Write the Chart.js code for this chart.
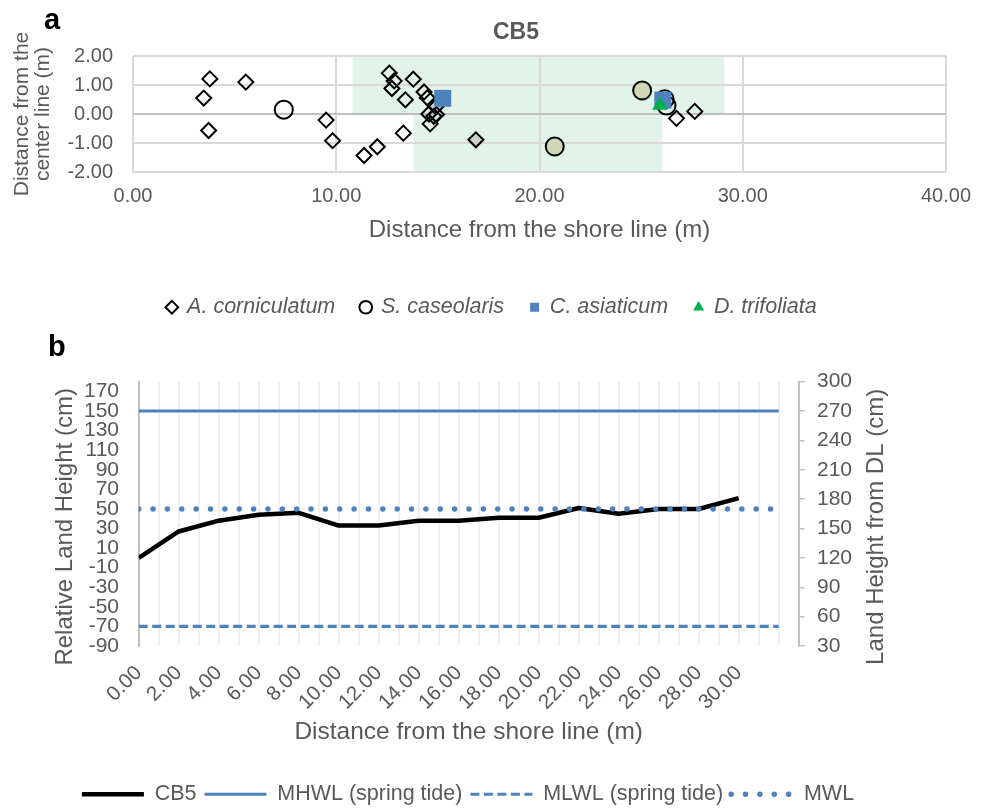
<!DOCTYPE html>
<html>
<head>
<meta charset="utf-8">
<title>CB5 transect</title>
<script src="https://cdn.jsdelivr.net/npm/chart.js@4.4.1/dist/chart.umd.min.js"></script>
<style>
  html, body { margin: 0; padding: 0; background: #fff; width: 984px; height: 809px; overflow: hidden; }
  body { position: relative; }
  canvas { position: absolute; left: 0; }
  #chartA { top: 0; }
  #chartB { top: 308px; }
  .panel { position: absolute; font: bold 29px 'Liberation Sans', Arial, sans-serif; color: #000; line-height: 29px; }
</style>
</head>
<body>
<canvas id="chartA" width="984" height="328"></canvas>
<canvas id="chartB" width="984" height="507"></canvas>
<div class="panel" style="left:44px;top:5px">a</div>
<div class="panel" style="left:48px;top:332px">b</div>
<script>
// ---------- Panel a: plant positions along the CB5 transect (m) ----------
const acorniculatumX = [3.78, 3.48, 3.72, 5.55, 9.50, 9.82, 11.37, 12.02, 13.30, 12.61, 12.85, 12.74, 13.40, 13.79, 14.32, 14.48, 14.56, 14.80, 14.93, 14.62, 26.74, 27.64];
const acorniculatumY = [1.21, 0.55, -0.57, 1.10, -0.21, -0.92, -1.43, -1.13, -0.66, 1.41, 1.14, 0.88, 0.49, 1.20, 0.76, 0.56, 0.00, -0.08, -0.02, -0.34, -0.15, 0.09];
const acorniculatumShadedX = [14.90, 16.87];
const acorniculatumShadedY = [0.25, -0.89];
const scaseolarisX = [7.42, 26.16, 26.25];
const scaseolarisY = [0.15, 0.51, 0.29];
const scaseolarisShadedX = [20.75, 25.05];
const scaseolarisShadedY = [-1.12, 0.81];
const casiaticumX = [15.24, 26.07];
const casiaticumY = [0.54, 0.48];
const dtrifoliataX = [25.93];
const dtrifoliataY = [0.30];
// vegetated zones: [xMin, xMax, yMin, yMax]
const zoneUpper = [10.8, 29.1, 0, 2];
const zoneLower = [13.8, 26.05, -2, 0];
const shoreTicksA = [0, 10, 20, 30, 40];
const centerTicksA = [-2, -1, 0, 1, 2];

// ---------- Panel b: land height profile ----------
const profileDistance = [0, 2, 4, 6, 8, 10, 12, 14, 16, 18, 20, 22, 24, 26, 28, 30];
const cb5Height = [0, 27, 38, 44, 46, 33, 33, 38, 38, 41, 41, 51, 45, 50, 50, 61];
const levelExtent = [0, 32];
const mhwlLevel = 150;
const mlwlLevel = -70;
const mwlLevel = 50;
const distanceTicksB = [0,1,2,3,4,5,6,7,8,9,10,11,12,13,14,15,16,17,18,19,20,21,22,23,24,25,26,27,28,29,30,31,32,33];
const labelledDistances = [0, 2, 4, 6, 8, 10, 12, 14, 16, 18, 20, 22, 24, 26, 28, 30];
const relativeTicks = [-90, -70, -50, -30, -10, 10, 30, 50, 70, 90, 110, 130, 150, 170];
const datumTicks = [30, 60, 90, 120, 150, 180, 210, 240, 270, 300];

// ---------- shared styling ----------
const FONT = "'Liberation Sans', Arial, sans-serif";
const TEXT = '#595959';
Chart.defaults.font.family = FONT;
Chart.defaults.color = TEXT;
Chart.defaults.animation = false;
Chart.defaults.plugins.tooltip.enabled = false;

const points = (xs, ys) => xs.map((x, i) => ({ x, y: ys[i] }));
const fixedTicks = list => scale => { scale.ticks = list.map(value => ({ value })); };
const byIndex = (a, b) => a.datasetIndex - b.datasetIndex;

// shaded zones behind the grid
const zonePlugin = {
  id: 'zones',
  beforeDraw(chart, args, opts) {
    const { ctx, scales: { x, y } } = chart;
    ctx.save();
    ctx.fillStyle = opts.color;
    for (const [x0, x1, y0, y1] of opts.zones) {
      const l = x.getPixelForValue(x0), r = x.getPixelForValue(x1);
      const t = y.getPixelForValue(y1), b = y.getPixelForValue(y0);
      ctx.fillRect(l, t, r - l, b - t);
    }
    ctx.restore();
  }
};

// chart heading placed over the plot
const headingPlugin = {
  id: 'heading',
  afterDraw(chart, args, opts) {
    const { ctx, chartArea } = chart;
    ctx.save();
    ctx.font = `bold ${opts.size}px ${FONT}`;
    ctx.fillStyle = TEXT;
    ctx.textAlign = 'center';
    ctx.textBaseline = 'middle';
    ctx.fillText(opts.text, (chartArea.left + chartArea.right) / 2 + opts.dx, opts.y);
    ctx.restore();
  }
};

// vertical axis titles reading bottom to top on both sides
const sideTitlePlugin = {
  id: 'sideTitles',
  afterDraw(chart, args, opts) {
    const { ctx, chartArea } = chart;
    const cy = (chartArea.top + chartArea.bottom) / 2 + opts.shift;
    ctx.save();
    ctx.font = `${opts.size}px ${FONT}`;
    ctx.fillStyle = TEXT;
    ctx.textAlign = 'center';
    ctx.textBaseline = 'middle';
    for (const t of opts.items) {
      const x = t.edge === 'left' ? chartArea.left - t.gap : chartArea.right + t.gap;
      ctx.save();
      ctx.translate(x, cy);
      ctx.rotate(-Math.PI / 2);
      ctx.fillText(t.text, 0, 0);
      ctx.restore();
    }
    ctx.restore();
  }
};

// ---------- Panel a chart ----------
const openMarker = { borderColor: '#000000', backgroundColor: 'rgba(0,0,0,0)', borderWidth: 2 };
new Chart(document.getElementById('chartA'), {
  type: 'scatter',
  data: {
    datasets: [
      { label: 'A. corniculatum', data: points(acorniculatumX, acorniculatumY), pointStyle: 'rectRot', pointRadius: 7.5, ...openMarker, order: 4 },
      { label: 'S. caseolaris', data: points(scaseolarisX, scaseolarisY), pointStyle: 'circle', pointRadius: 9, ...openMarker, order: 3 },
      { label: 'C. asiaticum', data: points(casiaticumX, casiaticumY), pointStyle: 'rect', pointRadius: 12, backgroundColor: '#4f81bd', borderColor: '#4f81bd', borderWidth: 0, order: 2 },
      { label: 'D. trifoliata', data: points(dtrifoliataX, dtrifoliataY), pointStyle: 'triangle', pointRadius: 9, backgroundColor: '#00b050', borderColor: '#00b050', borderWidth: 0, order: 1 },
      { label: 'A. corniculatum', data: points(acorniculatumShadedX, acorniculatumShadedY), pointStyle: 'rectRot', pointRadius: 7.5, borderColor: '#000000', backgroundColor: '#c8d3ca', borderWidth: 2, order: 5 },
      { label: 'S. caseolaris', data: points(scaseolarisShadedX, scaseolarisShadedY), pointStyle: 'circle', pointRadius: 9, borderColor: '#000000', backgroundColor: '#cfd7b8', borderWidth: 2, order: 5 }
    ]
  },
  options: {
    responsive: false,
    layout: { padding: { top: 56, left: 0, right: 0, bottom: 0 } },
    scales: {
      x: {
        type: 'linear', min: 0, max: 40,
        afterBuildTicks: fixedTicks(shoreTicksA),
        ticks: { font: { size: 20 }, padding: 12.5, callback: v => v.toFixed(2) },
        grid: { color: '#d9d9d9', lineWidth: 2, drawTicks: false },
        border: { display: false },
        title: { display: true, text: 'Distance from the shore line (m)', font: { size: 24 }, padding: { top: 0, bottom: 26.1 } },
        afterFit: s => { s.height = 98.5; }
      },
      y: {
        type: 'linear', min: -2, max: 2, position: 'left',
        afterBuildTicks: fixedTicks(centerTicksA),
        ticks: { font: { size: 20 }, padding: 20, autoSkip: false, callback: v => v.toFixed(2) },
        grid: { color: c => (c.tick && c.tick.value === 0 ? '#bfbfbf' : '#d9d9d9'), lineWidth: 2, drawTicks: false },
        border: { display: false },
        title: { display: true, text: ['Distance from the', 'center line (m)'], font: { size: 21, lineHeight: 1.0 }, padding: { top: 11.5, bottom: 0 } },
        afterFit: s => { s.width = 133; }
      },
      gutter: {
        type: 'linear', position: 'right', display: true,
        grid: { display: false, drawTicks: false },
        border: { display: false },
        ticks: { display: false },
        afterFit: s => { s.width = 38; }
      }
    },
    plugins: {
      legend: {
        position: 'bottom',
        labels: {
          usePointStyle: true, boxWidth: 9, boxHeight: 9, padding: 26,
          font: { size: 21.5, style: 'italic' }, color: TEXT,
          filter: item => item.datasetIndex < 4,
          sort: byIndex
        }
      },
      zones: { color: '#e2f4e9', zones: [zoneUpper, zoneLower] },
      heading: { text: 'CB5', size: 23, y: 33, dx: -23.5 }
    }
  },
  plugins: [zonePlugin, headingPlugin]
});

// ---------- Panel b chart ----------
const flatLine = level => levelExtent.map(x => ({ x, y: level }));
// legend samples copy each series' own stroke (width, dash and cap)
const lineSamples = chart => chart.data.datasets.map((ds, i) => ({
  text: ds.label,
  datasetIndex: i,
  hidden: false,
  fontColor: TEXT,
  fillStyle: ds.borderColor,
  strokeStyle: ds.borderColor,
  lineWidth: ds.borderWidth,
  lineDash: ds.borderDash || [],
  lineCap: ds.borderCapStyle || 'butt',
  pointStyle: 'line'
}));

new Chart(document.getElementById('chartB'), {
  type: 'line',
  data: {
    datasets: [
      { label: 'CB5', data: points(profileDistance, cb5Height), borderColor: '#000000', borderWidth: 4.5, borderJoinStyle: 'round', pointRadius: 0, order: 4 },
      { label: 'MHWL (spring tide)', data: flatLine(mhwlLevel), borderColor: '#4f81bd', borderWidth: 3, pointRadius: 0, order: 3 },
      { label: 'MLWL (spring tide)', data: flatLine(mlwlLevel), borderColor: '#4f81bd', borderWidth: 3.2, borderDash: [9, 4.5], pointRadius: 0, order: 2 },
      { label: 'MWL', data: flatLine(mwlLevel), borderColor: '#4f81bd', borderWidth: 5.5, borderDash: [0.01, 14.35], borderCapStyle: 'round', pointRadius: 0, order: 1 }
    ]
  },
  options: {
    responsive: false,
    layout: { padding: { top: 73.7, left: 0, right: 48, bottom: 0 } },
    scales: {
      x: {
        type: 'linear', min: 0, max: 33,
        afterBuildTicks: fixedTicks(distanceTicksB),
        ticks: {
          autoSkip: false, minRotation: 45, maxRotation: 45, padding: 15, font: { size: 20.5 },
          callback: v => (labelledDistances.includes(v) ? v.toFixed(2) : '')
        },
        grid: {
          color: c => (c.tick && (c.tick.value === 0 || c.tick.value === 33) ? 'rgba(0,0,0,0)' : '#f0f0f0'),
          lineWidth: 2, drawTicks: false
        },
        border: { display: false },
        title: { display: true, text: 'Distance from the shore line (m)', font: { size: 24.5 }, padding: { top: 0, bottom: 28.3 } },
        afterFit: s => { s.height = 129.5; }
      },
      y: {
        type: 'linear', position: 'left', min: -90, max: 180,
        afterBuildTicks: fixedTicks(relativeTicks),
        ticks: { padding: 19.7, font: { size: 21 }, autoSkip: false },
        grid: { color: c => (c.tick && c.tick.value === 0 ? '#bfbfbf' : 'rgba(0,0,0,0)'), lineWidth: 2, drawTicks: false },
        border: { color: '#bfbfbf', width: 2 },
        afterFit: s => { s.width = 138.7; }
      },
      y1: {
        type: 'linear', position: 'right', min: 30, max: 300,
        afterBuildTicks: fixedTicks(datumTicks),
        ticks: { padding: 12.3, font: { size: 21 }, autoSkip: false },
        grid: { drawOnChartArea: false, drawTicks: true, tickLength: 6, color: '#bfbfbf', lineWidth: 1.5 },
        border: { color: '#bfbfbf', width: 2 },
        afterFit: s => { s.width = 137.3; }
      }
    },
    plugins: {
      legend: {
        position: 'bottom',
        labels: {
          usePointStyle: true, pointStyle: 'line', pointStyleWidth: 62, padding: 8,
          font: { size: 21.5 }, color: TEXT, sort: byIndex,
          generateLabels: lineSamples
        }
      },
      sideTitles: {
        size: 24, shift: 13,
        items: [
          { edge: 'left', gap: 73.7, text: 'Relative Land Height (cm)' },
          { edge: 'right', gap: 77.3, text: 'Land Height from DL (cm)' }
        ]
      }
    }
  },
  plugins: [sideTitlePlugin]
});
</script>
</body>
</html>
